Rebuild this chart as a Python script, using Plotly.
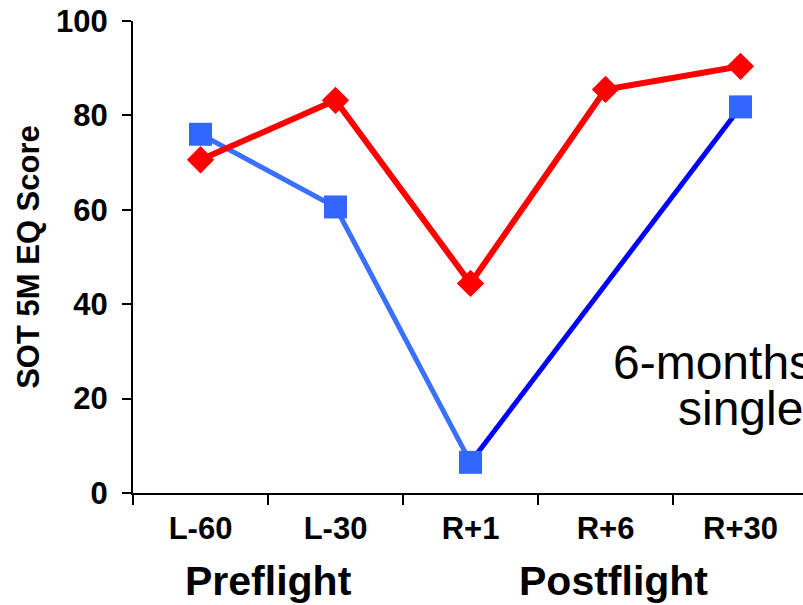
import plotly.graph_objects as go

# Test sessions and SOT 5M equilibrium scores for the two subjects
sessions = ["L-60", "L-30", "R+1", "R+6", "R+30"]
red_scores = [70.6, 83.2, 44.4, 85.5, 90.4]
blue_scores = [76.0, 60.6, 6.5, None, 81.8]

y_ticks = [0, 20, 40, 60, 80, 100]
phase_labels = ["Preflight", "Postflight"]
phase_positions = [0.5, 3.06]

FONT = "Arial, Liberation Sans, sans-serif"
RED = "#FF0000"
BLUE_LIGHT = "#3366FF"
BLUE_LINE = "#3A6FFF"
BLUE_DARK = "#0000FF"

fig = go.Figure()

# Postflight recovery of the blue subject (R+1 -> R+30, no R+6 session)
rec_x = [sessions[i] for i in (2, 4)]
rec_y = [blue_scores[i] for i in (2, 4)]
fig.add_trace(go.Scatter(
    x=rec_x, y=rec_y, mode="lines",
    line=dict(color=BLUE_DARK, width=5), hoverinfo="skip",
))

# Preflight to R+1 segment of the blue subject
fig.add_trace(go.Scatter(
    x=sessions[:3], y=blue_scores[:3], mode="lines",
    line=dict(color=BLUE_LINE, width=5), hoverinfo="skip",
))

# Blue square markers
bx = [s for s, v in zip(sessions, blue_scores) if v is not None]
by = [v for v in blue_scores if v is not None]
fig.add_trace(go.Scatter(
    x=bx, y=by, mode="markers",
    marker=dict(symbol="square", size=23, color=BLUE_LIGHT, line=dict(width=0)),
))

# Red subject
fig.add_trace(go.Scatter(
    x=sessions, y=red_scores, mode="lines+markers",
    line=dict(color=RED, width=6),
    marker=dict(symbol="diamond", size=21, color=RED, line=dict(width=0)),
))

annotations = []
for label, pos in zip(phase_labels, phase_positions):
    annotations.append(dict(
        x=pos, xref="x", y=-0.186, yref="paper",
        text=label, showarrow=False, xanchor="center", yanchor="middle",
        font=dict(family=FONT, size=41, color="black", weight="bold"),
    ))

annotations.append(dict(
    x=-0.157, xref="paper", y=0.5, yref="paper",
    text="SOT 5M EQ Score", textangle=-90, showarrow=False,
    xanchor="center", yanchor="middle",
    font=dict(family=FONT, size=31, color="black", weight="bold"),
))

annotations.append(dict(
    x=0.713, xref="paper", y=0.277, yref="paper",
    text="6-months", showarrow=False, xanchor="left", yanchor="middle",
    font=dict(family=FONT, size=48, color="black"),
))
annotations.append(dict(
    x=0.81, xref="paper", y=0.178, yref="paper",
    text="single", showarrow=False, xanchor="left", yanchor="middle",
    font=dict(family=FONT, size=48, color="black"),
))

fig.update_layout(
    width=803, height=605,
    margin=dict(l=133, r=0, t=21, b=112),
    paper_bgcolor="white", plot_bgcolor="white",
    showlegend=False,
    annotations=annotations,
    xaxis=dict(
        type="category", categoryorder="array", categoryarray=sessions,
        range=[-0.5, 4.463],
        showline=True, linecolor="black", linewidth=2,
        ticks="outside", tickson="boundaries", ticklen=10, tickwidth=2,
        tickcolor="black", showgrid=False, zeroline=False,
        tickfont=dict(family=FONT, size=31, color="black", weight="bold"),
        ticklabelstandoff=7,
    ),
    yaxis=dict(
        range=[0, 100], tickvals=y_ticks,
        showline=True, linecolor="black", linewidth=2,
        ticks="outside", ticklen=9, tickwidth=2, tickcolor="black",
        showgrid=False, zeroline=False,
        tickfont=dict(family=FONT, size=31, color="black", weight="bold"),
        ticklabelstandoff=8,
    ),
)

fig.write_html("out.html")
